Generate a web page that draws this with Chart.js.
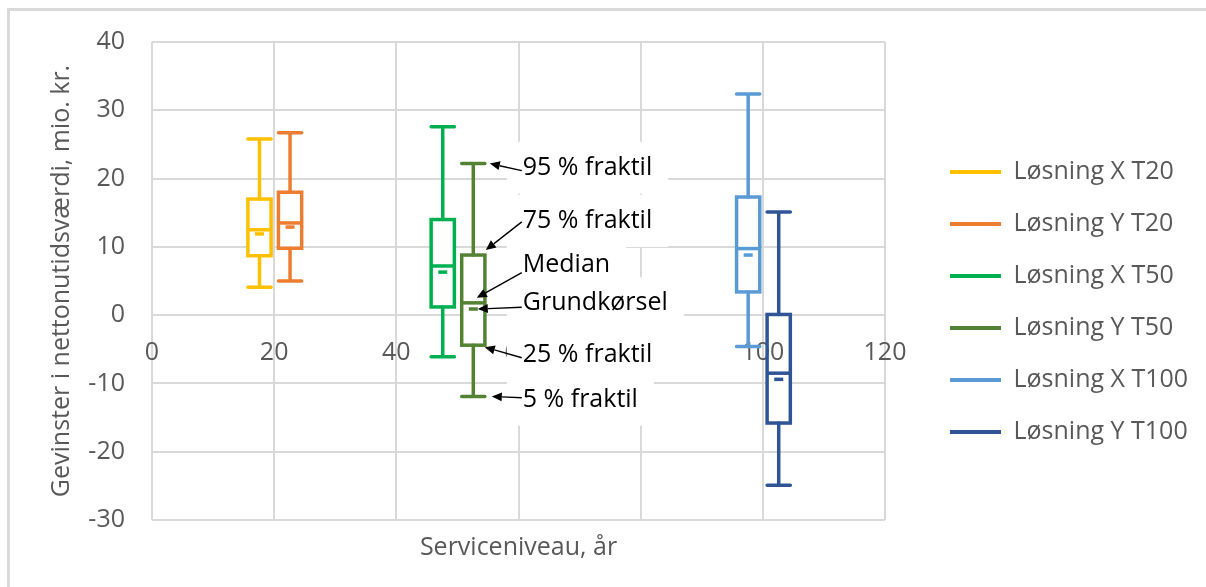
<!DOCTYPE html>
<html>
<head>
<meta charset="utf-8">
<script src="https://cdn.jsdelivr.net/npm/chart.js@4.4.1/dist/chart.umd.min.js"></script>
<style>
  html, body { margin: 0; padding: 0; background: #fff; }
  #wrap { position: relative; width: 1206px; height: 587px; overflow: hidden; }
  #frame { position: absolute; left: 7px; top: 8px; right: 0; bottom: 0;
           border-left: 3px solid #d9d9d9; border-top: 3px solid #d9d9d9; }
  #chart { position: absolute; left: 0; top: 0; }
</style>
</head>
<body>
<div id="wrap">
  <div id="frame"></div>
  <canvas id="chart" width="1206" height="587"></canvas>
</div>
<script>
// Series: one box per solution and service level
const seriesNames = ['Løsning X T20', 'Løsning Y T20', 'Løsning X T50', 'Løsning Y T50', 'Løsning X T100', 'Løsning Y T100'];
const seriesColors = ['#FFC000', '#ED7D31', '#00B050', '#548235', '#5B9BD5', '#2F5597'];
const servicePositions = [17.6, 22.6, 47.6, 52.6, 97.6, 102.6];
const pct95 = [25.8, 26.7, 27.6, 22.2, 32.4, 15.1];
const pct75 = [17.0, 18.0, 14.0, 8.8, 17.3, 0.1];
const medians = [12.5, 13.5, 7.2, 1.8, 9.75, -8.5];
const baseRuns = [11.9, 12.9, 6.3, 0.9, 8.8, -9.4];
const pct25 = [8.7, 9.8, 1.2, -4.4, 3.4, -15.8];
const pct5 = [4.1, 5.0, -6.1, -11.9, -4.6, -24.9];

// Axis ticks
const xTickLabels = [0, 20, 40, 60, 80, 100, 120];
const yMin = -30, yMax = 40, yStep = 10;

// Explanatory labels pointing at the "Løsning Y T50" box
const noteLabels = ['95 % fraktil', '75 % fraktil', 'Median', 'Grundkørsel', '25 % fraktil', '5 % fraktil'];
const noteSeries = 3;
const noteX = 60.7;
const noteY = [21.6, 13.8, 7.4, 1.75, -5.8, -12.4];

const FONT = "'Open Sans', 'Noto Sans', sans-serif";
const BOX_HALF = 1.9;   // half box width, x units
const BOX_LINE = 3.5;

// arrow geometry (pixels): tail offset from text anchor, tip offset from box centre / feature value
const noteTailDy = [3, 1, 8, 4, 3, -2];
const noteTipDx = [16.5, 12.5, 3.5, 4.5, 11.5, 18.5];
const noteTipDy = [0, -5, -5, 0, 2, 0];
const noteValues = [pct95, pct75, medians, baseRuns, pct25, pct5];

const boxPlugin = {
  id: 'boxes',
  beforeDatasetsDraw(chart) {
    const { ctx, scales: { x, y } } = chart;
    ctx.save();
    const geo = servicePositions.map((p, i) => ({
      cx: x.getPixelForValue(p),
      left: x.getPixelForValue(p - BOX_HALF),
      right: x.getPixelForValue(p + BOX_HALF),
      top: y.getPixelForValue(pct75[i]),
      bottom: y.getPixelForValue(pct25[i]),
      hi: y.getPixelForValue(pct95[i]),
      lo: y.getPixelForValue(pct5[i]),
      med: y.getPixelForValue(medians[i])
    }));
    // white box bodies
    ctx.fillStyle = '#ffffff';
    geo.forEach(g => ctx.fillRect(g.left, g.top, g.right - g.left, g.bottom - g.top));
    // x tick labels sit just under the zero line
    ctx.fillStyle = '#595959';
    ctx.font = '25px ' + FONT;
    ctx.textAlign = 'center';
    ctx.textBaseline = 'middle';
    const labelY = y.getPixelForValue(0) + 38;
    xTickLabels.forEach(v => ctx.fillText(String(v), x.getPixelForValue(v), labelY));
    // box outlines, whiskers and caps
    ctx.lineWidth = BOX_LINE;
    geo.forEach((g, i) => {
      ctx.strokeStyle = seriesColors[i];
      ctx.lineJoin = 'miter';
      ctx.lineCap = 'butt';
      ctx.strokeRect(g.left, g.top, g.right - g.left, g.bottom - g.top);
      ctx.beginPath();
      ctx.moveTo(g.left, g.med); ctx.lineTo(g.right, g.med);
      ctx.stroke();
      ctx.lineCap = 'round';
      ctx.beginPath();
      ctx.moveTo(g.cx, g.hi); ctx.lineTo(g.cx, g.top);
      ctx.moveTo(g.cx, g.bottom); ctx.lineTo(g.cx, g.lo);
      ctx.moveTo(g.left, g.hi); ctx.lineTo(g.right, g.hi);
      ctx.moveTo(g.left, g.lo); ctx.lineTo(g.right, g.lo);
      ctx.stroke();
    });
    ctx.restore();
  }
};

function arrow(ctx, x0, y0, x1, y1) {
  const a = Math.atan2(y1 - y0, x1 - x0);
  const len = 10, half = 4.5;
  const bx = x1 - Math.cos(a) * len, by = y1 - Math.sin(a) * len;
  ctx.beginPath();
  ctx.moveTo(x0, y0);
  ctx.lineTo(bx, by);
  ctx.stroke();
  ctx.beginPath();
  ctx.moveTo(x1, y1);
  ctx.lineTo(bx - Math.sin(a) * half, by + Math.cos(a) * half);
  ctx.lineTo(bx + Math.sin(a) * half, by - Math.cos(a) * half);
  ctx.closePath();
  ctx.fill();
}

const notePlugin = {
  id: 'notes',
  afterDatasetsDraw(chart) {
    const { ctx, scales: { x, y } } = chart;
    ctx.save();
    ctx.font = '25px ' + FONT;
    ctx.textAlign = 'left';
    ctx.textBaseline = 'middle';
    const tx = x.getPixelForValue(noteX);
    const cx = x.getPixelForValue(servicePositions[noteSeries]);
    // opaque label boxes
    ctx.fillStyle = '#ffffff';
    noteLabels.forEach((t, k) => {
      const ty = y.getPixelForValue(noteY[k]);
      const w = ctx.measureText(t).width;
      ctx.fillRect(tx - 16, ty - 26, w + 32, 52);
    });
    ctx.fillStyle = '#000000';
    ctx.strokeStyle = '#000000';
    ctx.lineWidth = 1.4;
    noteLabels.forEach((t, k) => {
      const ty = y.getPixelForValue(noteY[k]);
      ctx.fillText(t, tx, ty);
      const tipX = cx + noteTipDx[k];
      const tipY = y.getPixelForValue(noteValues[k][noteSeries]) + noteTipDy[k];
      arrow(ctx, tx - 1, ty + noteTailDy[k], tipX, tipY);
    });
    ctx.restore();
  }
};

new Chart(document.getElementById('chart'), {
  type: 'scatter',
  data: {
    datasets: seriesNames.map((name, i) => ({
      label: name,
      xAxisID: 'x',
      yAxisID: 'y',
      data: [{ x: servicePositions[i], y: baseRuns[i] }],
      backgroundColor: seriesColors[i],
      borderColor: seriesColors[i],
      pointStyle: 'line',
      pointRadius: 4.5,
      pointHoverRadius: 4.5,
      pointBorderWidth: 3.5
    }))
  },
  options: {
    responsive: false,
    animation: false,
    events: [],
    layout: { padding: { top: 41, bottom: 24, left: 0, right: 8 } },
    scales: {
      x: {
        type: 'linear', position: 'bottom', min: 0, max: 120,
        ticks: { display: false, stepSize: 20 },
        grid: { color: '#d9d9d9', lineWidth: 2, drawTicks: false },
        border: { display: false },
        title: { display: true, text: 'Serviceniveau, år', color: '#595959',
                 font: { family: FONT, size: 25 }, padding: { top: 0, bottom: 0 } },
        afterFit(s) { s.height = 43; }
      },
      y: {
        type: 'linear', position: 'left', min: yMin, max: yMax,
        ticks: { stepSize: yStep, color: '#595959', font: { family: FONT, size: 25 }, padding: 27 },
        grid: { color: '#d9d9d9', lineWidth: 2, drawTicks: false },
        border: { display: false },
        title: { display: true, text: 'Gevinster i nettonutidsværdi, mio. kr.', color: '#595959',
                 font: { family: FONT, size: 25 }, padding: { top: 47, bottom: 0 } },
        afterFit(s) { s.width = 152; }
      },
      gap: {
        type: 'linear', position: 'right', axis: 'y',
        grid: { display: false, drawTicks: false },
        ticks: { display: false },
        border: { display: false },
        afterFit(s) { s.width = 38; }
      }
    },
    plugins: {
      tooltip: { enabled: false },
      legend: {
        position: 'right',
        maxWidth: 275,
        labels: {
          boxWidth: 51, boxHeight: 4, padding: 27,
          color: '#595959',
          font: { family: FONT, size: 25 },
          generateLabels(chart) {
            return chart.data.datasets.map((d, i) => ({
              text: d.label, fillStyle: d.borderColor, strokeStyle: d.borderColor,
              lineWidth: 0, hidden: false, datasetIndex: i, fontColor: '#595959'
            }));
          }
        }
      }
    }
  },
  plugins: [boxPlugin, notePlugin]
});
</script>
</body>
</html>
